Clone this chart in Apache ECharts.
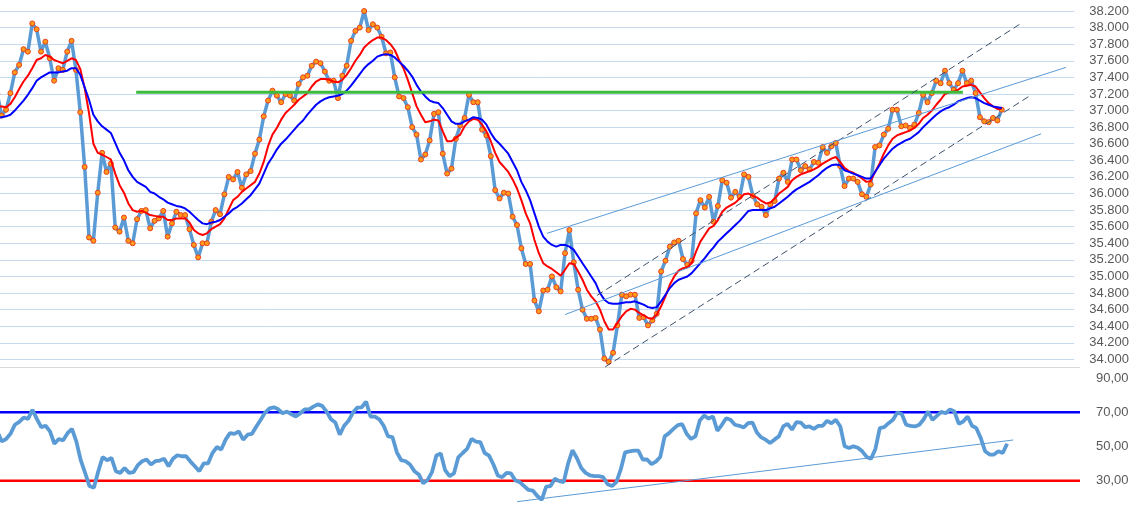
<!DOCTYPE html>
<html><head><meta charset="utf-8">
<script src="https://cdn.jsdelivr.net/npm/echarts@6/dist/echarts.min.js"></script>
<style>html,body{margin:0;padding:0;background:#fff}#c{width:1132px;height:515px}</style>
</head><body><div id="c"></div>
<script>
// price closes (first value is the partly hidden point at the left edge)
const price = [37.20,
36.94,37.01,37.21,37.46,37.55,37.74,37.71,38.05,37.98,37.71,
37.83,37.63,37.36,37.51,37.49,37.71,37.84,37.49,36.98,36.32,
35.47,35.43,36.01,36.49,36.26,36.36,35.59,35.54,35.71,35.43,
35.40,35.69,35.79,35.80,35.58,35.67,35.70,35.79,35.48,35.64,
35.78,35.74,35.74,35.57,35.38,35.23,35.40,35.40,35.66,35.80,
35.75,35.99,36.20,36.17,36.26,36.07,36.23,36.27,36.48,36.65,
36.93,37.12,37.24,37.18,37.10,37.20,37.18,37.12,37.32,37.40,
37.42,37.54,37.59,37.57,37.47,37.36,37.36,37.15,37.42,37.54,
37.84,37.96,38.00,38.20,37.97,38.04,38.00,37.89,37.69,37.70,
37.40,37.17,37.15,37.04,36.80,36.71,36.41,36.47,36.64,36.96,
36.98,36.48,36.24,36.30,36.66,36.82,36.91,37.19,37.10,37.10,
36.77,36.70,36.45,36.04,35.94,36.01,36.00,35.72,35.62,35.34,
35.15,35.15,34.71,34.58,34.83,34.84,35.00,34.87,34.82,35.28,
35.56,35.17,34.84,34.60,34.49,34.49,34.50,34.36,34.01,33.97,
34.08,34.41,34.78,34.76,34.78,34.78,34.50,34.51,34.41,34.47,
34.55,35.06,35.19,35.36,35.41,35.43,35.21,35.14,35.19,35.76,
35.92,35.83,35.96,35.66,35.85,36.16,36.13,35.95,36.02,35.96,
36.23,36.20,35.97,35.87,35.84,35.74,35.87,35.91,36.18,36.25,
36.14,36.41,36.41,36.28,36.33,36.29,36.38,36.37,36.56,36.49,
36.57,36.61,36.33,36.09,36.18,36.18,36.14,35.99,35.96,36.11,
36.56,36.58,36.71,36.78,37.01,37.01,36.81,36.82,36.79,36.83,
36.97,37.19,37.10,37.21,37.36,37.33,37.48,37.33,37.25,37.33,
37.48,37.33,37.36,37.21,36.92,36.87,36.86,36.91,36.88,37.01];

// fast average (red)
const avgFast = [37.05,
37.05,37.04,37.08,37.16,37.26,37.35,37.42,37.51,37.61,37.63,
37.67,37.65,37.61,37.59,37.57,37.60,37.63,37.61,37.50,37.27,
36.97,36.60,36.49,36.47,36.44,36.41,36.24,36.10,36.01,35.88,
35.80,35.78,35.79,35.77,35.74,35.73,35.72,35.72,35.68,35.68,
35.70,35.70,35.70,35.65,35.56,35.52,35.50,35.52,35.57,35.60,
35.63,35.70,35.81,35.92,35.96,36.02,36.06,36.10,36.14,36.24,
36.38,36.57,36.71,36.79,36.89,36.97,37.02,37.07,37.13,37.17,
37.21,37.29,37.35,37.38,37.38,37.37,37.35,37.34,37.37,37.43,
37.51,37.60,37.67,37.76,37.81,37.85,37.88,37.88,37.85,37.80,
37.73,37.61,37.51,37.37,37.21,37.05,36.95,36.86,36.87,36.89,
36.88,36.75,36.63,36.63,36.67,36.71,36.81,36.87,36.90,36.89,
36.83,36.75,36.63,36.49,36.38,36.32,36.26,36.17,36.06,35.92,
35.76,35.64,35.44,35.28,35.16,35.12,35.09,35.05,35.01,35.08,
35.16,35.15,35.06,34.96,34.84,34.76,34.70,34.60,34.46,34.36,
34.36,34.44,34.52,34.58,34.61,34.60,34.56,34.53,34.50,34.49,
34.54,34.64,34.76,34.90,35.00,35.07,35.10,35.11,35.16,35.30,
35.42,35.50,35.58,35.61,35.68,35.78,35.83,35.86,35.89,35.94,
35.99,36.00,35.97,35.95,35.91,35.88,35.89,35.94,36.00,36.04,
36.08,36.16,36.20,36.23,36.25,36.27,36.29,36.32,36.36,36.39,
36.42,36.44,36.38,36.31,36.27,36.25,36.22,36.18,36.14,36.15,
36.26,36.36,36.48,36.58,36.66,36.70,36.72,36.74,36.76,36.79,
36.84,36.91,36.95,37.00,37.07,37.13,37.20,37.22,37.23,37.25,
37.29,37.30,37.31,37.29,37.22,37.15,37.09,37.05,37.02,37.02];

// slow average (blue)
const avgSlow = [36.91,
36.92,36.93,36.95,37.00,37.06,37.12,37.19,37.27,37.36,37.40,
37.43,37.46,37.46,37.46,37.47,37.48,37.51,37.51,37.43,37.28,
37.13,36.95,36.87,36.81,36.77,36.73,36.61,36.49,36.40,36.28,
36.20,36.14,36.11,36.08,36.02,36.00,35.96,35.93,35.89,35.87,
35.85,35.84,35.82,35.78,35.73,35.68,35.64,35.63,35.65,35.66,
35.68,35.72,35.76,35.81,35.84,35.88,35.93,35.98,36.05,36.12,
36.24,36.36,36.44,36.53,36.60,36.65,36.71,36.77,36.83,36.88,
36.95,37.01,37.07,37.11,37.14,37.16,37.17,37.18,37.20,37.24,
37.30,37.37,37.44,37.51,37.56,37.60,37.65,37.67,37.68,37.67,
37.64,37.59,37.54,37.48,37.41,37.31,37.23,37.17,37.12,37.10,
37.09,37.03,36.95,36.87,36.84,36.84,36.87,36.89,36.92,36.91,
36.89,36.83,36.73,36.65,36.60,36.54,36.48,36.38,36.28,36.14,
36.04,35.92,35.76,35.60,35.48,35.42,35.38,35.36,35.38,35.38,
35.36,35.32,35.24,35.16,35.08,35.00,34.92,34.80,34.72,34.68,
34.67,34.67,34.68,34.69,34.69,34.70,34.68,34.66,34.63,34.62,
34.63,34.70,34.78,34.86,34.92,34.96,34.98,35.00,35.04,35.10,
35.16,35.22,35.29,35.35,35.42,35.47,35.52,35.57,35.62,35.67,
35.73,35.79,35.80,35.80,35.80,35.80,35.82,35.84,35.88,35.92,
35.96,36.01,36.05,36.08,36.11,36.14,36.18,36.22,36.27,36.31,
36.34,36.35,36.34,36.28,36.26,36.24,36.22,36.20,36.18,36.18,
36.26,36.34,36.42,36.48,36.54,36.58,36.61,36.64,36.66,36.70,
36.74,36.80,36.85,36.90,36.95,36.99,37.02,37.04,37.07,37.11,
37.13,37.15,37.16,37.15,37.12,37.09,37.07,37.05,37.04,37.03];

// RSI
const rsi = [58.8,
53.0,54.4,57.4,62.7,64.4,66.9,66.1,71.4,66.1,61.3,
62.1,58.8,51.6,54.4,53.6,57.8,60.3,53.0,42.0,34.6,
26.9,25.9,35.6,43.9,42.0,43.3,35.6,34.6,37.5,34.6,
35.0,39.1,41.4,42.4,39.5,41.4,41.8,42.8,38.5,42.8,
44.9,44.3,44.3,41.2,38.5,35.6,40.1,40.1,46.2,49.7,
48.2,54.0,57.8,57.4,58.8,54.0,56.9,57.4,61.7,65.6,
69.8,72.3,72.9,71.7,69.4,70.4,68.8,67.5,69.4,71.7,
71.7,73.3,74.6,73.7,70.4,65.9,64.0,56.9,62.1,65.0,
69.8,72.7,72.9,76.2,67.5,67.5,65.9,62.1,55.9,55.5,
46.6,42.0,41.4,39.5,35.6,33.7,28.5,30.4,35.0,44.7,
45.9,36.2,32.7,34.3,43.7,46.2,48.6,54.4,52.8,52.6,
46.2,44.7,39.5,33.1,32.1,34.6,34.3,30.2,29.2,26.9,
24.6,24.2,21.1,18.8,26.5,26.9,31.2,29.8,29.2,40.0,
47.8,43.3,37.5,34.6,33.1,32.7,32.7,32.1,27.9,26.9,
29.2,36.6,46.6,47.2,47.6,47.6,42.4,42.4,39.7,41.2,
43.9,55.9,57.8,60.3,62.5,63.0,57.4,54.4,55.9,65.2,
68.1,66.3,67.5,59.2,62.5,66.5,65.6,62.7,62.1,61.1,
63.6,64.0,58.2,55.3,54.0,52.0,54.0,55.9,61.7,63.2,
59.8,64.2,64.0,61.3,61.7,60.3,62.1,62.1,65.0,63.6,
65.6,61.7,50.1,49.1,50.1,49.3,47.2,43.9,42.8,48.6,
60.7,61.3,63.6,65.6,69.8,69.0,62.7,62.1,61.7,62.7,
65.9,70.4,65.6,67.9,70.2,69.4,71.7,70.4,63.2,64.6,
67.5,62.1,60.7,54.9,47.2,45.3,45.3,47.2,46.2,51.6];

// hand-drawn lines: [bar index, value] end points
const resistance   = [[31.8, 37.22], [221.1, 37.22]];
const channelHigh  = [[137.3, 34.77], [234.1, 38.04]];
const channelLow   = [[139.2, 33.91], [236.8, 37.19]];
const trendHigh    = [[125.9, 35.52], [244.7, 37.52]];
const trendLow     = [[130.0, 34.54], [239.0, 36.72]];
const rsiTrend     = [[118.4, 17.8], [231.4, 53.8]];

const priceAxis = {min: 34, max: 38.2, step: 0.2};
const rsiAxis = {min: 10, max: 90, step: 20};
const rsiLevels = {high: 70, low: 30};
const xRange = {min: 0.615, max: 246.6};

const pairs = a => a.map((v, i) => [i, v]);
const chart = echarts.init(document.getElementById('c'), null, {renderer: 'canvas'});
const lblFont = {color: '#595959', fontSize: 13, fontFamily: 'Liberation Sans'};
function seg(data, color, width, type, z, xi) {
  return {type: 'line', xAxisIndex: xi || 0, yAxisIndex: xi || 0, data: data, symbol: 'none',
    clip: false, silent: true, z: z,
    lineStyle: {color: color, width: width, type: type || 'solid'}};
}
chart.setOption({
  animation: false,
  backgroundColor: '#fff',
  grid: [
    {left: 0, right: 52, top: 11, bottom: 155.6},
    {left: 0, right: 52, top: 378, height: 138}
  ],
  xAxis: [
    {type: 'value', gridIndex: 0, min: xRange.min, max: xRange.max, show: false},
    {type: 'value', gridIndex: 1, min: xRange.min, max: xRange.max, show: false}
  ],
  yAxis: [
    {type: 'value', gridIndex: 0, position: 'right', min: priceAxis.min, max: priceAxis.max, interval: priceAxis.step,
     axisLine: {show: false}, axisTick: {show: false},
     splitLine: {lineStyle: {color: '#c5d9ef', width: 1}},
     axisLabel: Object.assign({margin: 15, formatter: v => v.toFixed(3)}, lblFont)},
    {type: 'value', gridIndex: 1, position: 'right', min: rsiAxis.min, max: rsiAxis.max, interval: rsiAxis.step,
     axisLine: {show: false}, axisTick: {show: false}, splitLine: {show: false},
     axisLabel: Object.assign({margin: 16, formatter: v => v < 30 ? '' : v.toFixed(2).replace('.', ',')}, lblFont)}
  ],
  graphic: [{type: 'line', shape: {x1: 0, y1: 367.5, x2: 1080, y2: 367.5}, style: {stroke: '#d9d9d9', lineWidth: 1}, silent: true}],
  series: [
    {type: 'line', data: pairs(price), clip: false, silent: true, z: 2,
     lineStyle: {color: '#5b9bd5', width: 3.5}, symbol: 'circle', symbolSize: 5, showAllSymbol: true,
     itemStyle: {color: '#ff9a1a', borderColor: '#e8401c', borderWidth: 1}},
    seg(pairs(avgFast), '#ff0000', 2, 'solid', 3),
    seg(pairs(avgSlow), '#0000ff', 2, 'solid', 4),
    seg(resistance, '#3dbb3d', 3, 'solid', 5),
    seg(channelHigh, '#3e5068', 1, [7, 4], 6),
    seg(channelLow, '#3e5068', 1, [7, 4], 6),
    seg(trendHigh, '#5b9bd5', 1, 'solid', 6),
    seg(trendLow, '#5b9bd5', 1, 'solid', 6),
    seg([[xRange.min, rsiLevels.high], [xRange.max, rsiLevels.high]], '#0000ff', 2.5, 'solid', 2, 1),
    seg([[xRange.min, rsiLevels.low], [xRange.max, rsiLevels.low]], '#ff0000', 2.5, 'solid', 2, 1),
    seg(pairs(rsi), '#5b9bd5', 3.8, 'solid', 3, 1),
    seg(rsiTrend, '#5b9bd5', 1, 'solid', 4, 1)
  ]
});
</script></body></html>
